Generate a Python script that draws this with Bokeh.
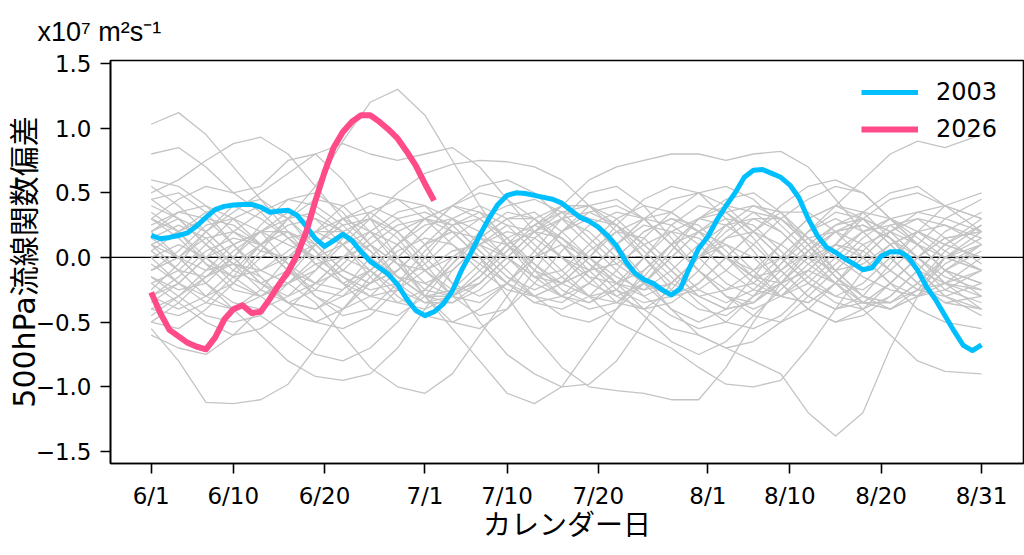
from bokeh.plotting import figure
from bokeh.models import Range1d, FixedTicker, Span
from bokeh.embed import file_html
from bokeh.resources import INLINE

# ---------------- data ----------------
x_tick_days = [0, 9, 19, 30, 39, 49, 61, 70, 80, 91]
x_tick_labels = ["6/1", "6/10", "6/20", "7/1", "7/10", "7/20", "8/1", "8/10", "8/20", "8/31"]
y_ticks = [-1.5, -1.0, -0.5, 0.0, 0.5, 1.0, 1.5]
y_tick_labels = ["\u22121.5", "\u22121.0", "\u22120.5", "0.0", "0.5", "1.0", "1.5"]
unit_text = "x10\u2077 m\u00b2s\u207b\u00b9"

days_2003 = list(range(92))
vals_2003 = [0.17, 0.145, 0.155, 0.17, 0.19, 0.245, 0.31, 0.37, 0.395, 0.405,
             0.41, 0.41, 0.39, 0.35, 0.36, 0.365, 0.325, 0.24, 0.145, 0.085,
             0.13, 0.18, 0.13, 0.045, -0.03, -0.08, -0.13, -0.21, -0.32, -0.41,
             -0.45, -0.42, -0.36, -0.26, -0.10, 0.03, 0.17, 0.30, 0.41, 0.48,
             0.50, 0.495, 0.48, 0.465, 0.45, 0.42, 0.365, 0.31, 0.28, 0.235,
             0.17, 0.09, -0.03, -0.12, -0.17, -0.20, -0.25, -0.29, -0.24, -0.08,
             0.07, 0.16, 0.29, 0.40, 0.50, 0.62, 0.675, 0.68, 0.65, 0.62,
             0.56, 0.46, 0.30, 0.17, 0.08, 0.04, -0.01, -0.05, -0.095, -0.08,
             0.01, 0.045, 0.045, 0.0, -0.10, -0.23, -0.33, -0.45, -0.57, -0.68,
             -0.72, -0.675]

days_2026 = list(range(32))
vals_2026 = [-0.27, -0.43, -0.56, -0.61, -0.66, -0.69, -0.71, -0.62, -0.48, -0.40,
             -0.37, -0.43, -0.42, -0.32, -0.21, -0.11, 0.02, 0.20, 0.44, 0.66,
             0.85, 0.97, 1.05, 1.10, 1.10, 1.05, 0.99, 0.92, 0.82, 0.71,
             0.57, 0.44]

grey_days = [0, 3, 6, 9, 12, 15, 18, 21, 24, 27, 30, 33, 36, 39, 42, 45,
             48, 51, 54, 57, 60, 63, 66, 69, 72, 75, 78, 81, 84, 87, 91]
grey_series = [
    [1.03, 1.12, 0.95, 0.7, 0.45, 0.2, -0.05, -0.2, -0.1, 0.1, 0.3, 0.4, 0.3, 0.1, -0.1, -0.2, -0.1, 0.1, 0.3, 0.35, 0.2, 0.0, -0.2, -0.3, -0.2, 0.0, 0.2, 0.3, 0.2, 0.05, -0.1],
    [0.8, 0.85, 0.7, 0.5, 0.55, 0.75, 0.8, 0.6, 0.3, 0.0, -0.3, -0.5, -0.55, -0.4, -0.1, 0.2, 0.4, 0.45, 0.3, 0.1, -0.1, -0.3, -0.4, -0.3, -0.1, 0.1, 0.35, 0.5, 0.55, 0.4, 0.2],
    [-0.3, -0.2, 0.0, 0.1, 0.2, 0.3, 0.55, 0.9, 1.2, 1.3, 1.1, 0.75, 0.4, 0.1, -0.15, -0.3, -0.35, -0.2, 0.0, 0.2, 0.3, 0.25, 0.1, -0.1, -0.3, -0.4, -0.35, -0.2, 0.0, 0.15, 0.2],
    [-0.55, -0.8, -1.12, -1.13, -1.1, -0.98, -0.7, -0.4, -0.15, 0.05, 0.15, 0.1, -0.05, -0.2, -0.3, -0.2, 0.0, 0.2, 0.3, 0.25, 0.1, -0.1, -0.25, -0.3, -0.15, 0.05, 0.2, 0.25, 0.1, -0.1, -0.2],
    [0.1, -0.1, -0.3, -0.4, -0.3, -0.2, -0.35, -0.6, -0.85, -1.0, -1.05, -0.9, -0.6, -0.3, 0.0, 0.2, 0.3, 0.25, 0.1, -0.1, -0.3, -0.4, -0.35, -0.2, 0.0, 0.2, 0.3, 0.2, 0.0, -0.2, -0.3],
    [0.2, 0.3, 0.2, 0.0, -0.2, -0.3, -0.2, 0.0, 0.1, -0.05, -0.3, -0.55, -0.8, -1.05, -1.13, -1.0, -0.7, -0.4, -0.1, 0.1, 0.2, 0.1, -0.1, -0.3, -0.35, -0.2, 0.0, 0.2, 0.35, 0.4, 0.3],
    [-0.2, -0.1, 0.1, 0.3, 0.4, 0.3, 0.1, -0.1, -0.2, -0.1, 0.1, 0.2, 0.0, -0.3, -0.6, -0.85, -1.0, -1.03, -1.05, -1.1, -1.1, -0.85, -0.5, -0.2, 0.0, 0.1, 0.05, -0.1, -0.25, -0.3, -0.2],
    [0.3, 0.2, 0.0, -0.2, -0.3, -0.2, 0.0, 0.2, 0.3, 0.2, 0.0, -0.2, -0.3, -0.2, 0.0, 0.1, 0.0, -0.2, -0.4, -0.55, -0.6, -0.7, -0.8, -0.9, -1.2, -1.38, -1.2, -0.7, -0.3, 0.0, 0.1],
    [-0.1, 0.0, 0.15, 0.2, 0.1, -0.1, -0.3, -0.4, -0.3, -0.1, 0.1, 0.2, 0.15, 0.0, -0.2, -0.3, -0.2, 0.0, 0.2, 0.3, 0.2, 0.0, -0.1, 0.0, 0.2, 0.4, 0.6, 0.8, 0.9, 0.85, 0.95],
    [-0.4, -0.3, -0.1, 0.1, 0.2, 0.1, 0.0, 0.1, 0.3, 0.5, 0.65, 0.72, 0.75, 0.74, 0.7, 0.6, 0.4, 0.2, 0.0, -0.2, -0.3, -0.25, -0.1, 0.1, 0.3, 0.4, 0.3, 0.1, -0.1, -0.2, -0.25],
    [0.0, -0.2, -0.35, -0.4, -0.25, 0.0, 0.2, 0.3, 0.2, 0.0, -0.2, -0.3, -0.2, 0.0, 0.2, 0.4, 0.6, 0.7, 0.75, 0.8, 0.8, 0.75, 0.8, 0.82, 0.7, 0.45, 0.2, 0.0, -0.2, -0.35, -0.4],
    [0.4, 0.3, 0.1, -0.1, -0.2, -0.1, 0.1, 0.3, 0.4, 0.3, 0.1, -0.2, -0.5, -0.75, -0.9, -1.0, -0.98, -0.8, -0.5, -0.2, 0.0, 0.1, 0.0, -0.2, -0.4, -0.5, -0.4, -0.2, 0.0, 0.15, 0.2],
    [0.5, 0.6, 0.75, 0.88, 0.93, 0.8, 0.55, 0.3, 0.1, -0.05, -0.1, 0.0, 0.15, 0.3, 0.35, 0.2, 0.0, -0.2, -0.3, -0.2, 0.0, 0.2, 0.35, 0.3, 0.1, -0.1, -0.3, -0.4, -0.3, -0.1, 0.05],
    [-0.3, -0.4, -0.3, -0.1, 0.1, 0.2, 0.1, -0.1, -0.2, -0.1, 0.1, 0.3, 0.4, 0.3, 0.1, -0.1, -0.3, -0.5, -0.6, -0.7, -0.85, -0.98, -1.0, -0.95, -0.7, -0.4, -0.1, 0.1, 0.2, 0.1, 0.0],
    [0.1, 0.2, 0.3, 0.25, 0.1, -0.1, -0.2, -0.1, 0.1, 0.25, 0.3, 0.2, 0.0, -0.2, -0.35, -0.3, -0.1, 0.1, 0.25, 0.2, 0.0, -0.2, -0.3, -0.2, -0.1, -0.2, -0.4, -0.6, -0.8, -0.88, -0.9],
    [-0.1, 0.0, 0.2, 0.35, 0.5, 0.65, 0.8, 0.88, 0.8, 0.75, 0.8, 0.85, 0.7, 0.45, 0.2, 0.0, -0.1, -0.05, 0.1, 0.2, 0.15, 0.0, -0.15, -0.2, -0.1, 0.1, 0.3, 0.45, 0.5, 0.4, 0.3],
    [0.2, 0.0, -0.2, -0.4, -0.6, -0.8, -0.92, -0.95, -0.9, -0.7, -0.4, -0.1, 0.1, 0.2, 0.15, 0.0, -0.15, -0.2, -0.1, 0.1, 0.3, 0.4, 0.35, 0.2, 0.0, -0.1, -0.05, 0.1, 0.2, 0.1, 0.0],
    [0.55, 0.4, 0.2, 0.0, -0.2, -0.35, -0.4, -0.3, -0.1, 0.1, 0.25, 0.3, 0.2, 0.0, -0.15, -0.2, -0.1, 0.1, 0.3, 0.45, 0.5, 0.4, 0.2, 0.0, -0.2, -0.35, -0.4, -0.3, -0.1, 0.1, 0.25],
    [-0.5, -0.55, -0.4, -0.2, 0.0, 0.15, 0.2, 0.1, -0.1, -0.3, -0.45, -0.5, -0.4, -0.2, 0.0, 0.2, 0.35, 0.4, 0.3, 0.1, -0.1, -0.3, -0.45, -0.5, -0.4, -0.2, 0.0, 0.2, 0.3, 0.25, 0.15],
    [0.3, 0.45, 0.55, 0.5, 0.35, 0.15, 0.0, -0.15, -0.25, -0.2, -0.05, 0.15, 0.3, 0.4, 0.45, 0.35, 0.15, -0.05, -0.2, -0.3, -0.25, -0.1, 0.1, 0.3, 0.45, 0.55, 0.5, 0.3, 0.1, -0.1, -0.2],
    [-0.2, -0.35, -0.5, -0.6, -0.55, -0.4, -0.2, 0.0, 0.2, 0.35, 0.4, 0.3, 0.1, -0.1, -0.3, -0.45, -0.5, -0.4, -0.2, 0.0, 0.2, 0.35, 0.4, 0.3, 0.15, 0.0, -0.15, -0.25, -0.3, -0.2, -0.1],
    [0.0, 0.1, 0.0, -0.15, -0.3, -0.45, -0.5, -0.4, -0.2, 0.0, 0.2, 0.4, 0.55, 0.6, 0.5, 0.3, 0.1, -0.1, -0.3, -0.45, -0.55, -0.5, -0.3, -0.1, 0.1, 0.25, 0.3, 0.2, 0.0, -0.2, -0.4],
    [0.15, 0.0, -0.2, -0.35, -0.4, -0.3, -0.1, 0.15, 0.35, 0.45, 0.4, 0.2, 0.0, -0.2, -0.35, -0.4, -0.3, -0.1, 0.15, 0.35, 0.5, 0.55, 0.45, 0.25, 0.05, -0.15, -0.3, -0.35, -0.25, -0.05, 0.1],
    [-0.35, -0.2, 0.0, 0.2, 0.35, 0.45, 0.4, 0.25, 0.05, -0.15, -0.3, -0.35, -0.25, -0.05, 0.15, 0.3, 0.35, 0.25, 0.05, -0.15, -0.35, -0.5, -0.55, -0.45, -0.25, -0.05, 0.15, 0.3, 0.35, 0.3, 0.2],
    [0.45, 0.3, 0.1, -0.05, -0.1, 0.0, 0.2, 0.4, 0.5, 0.45, 0.3, 0.1, -0.1, -0.25, -0.3, -0.2, 0.0, 0.25, 0.45, 0.55, 0.5, 0.3, 0.05, -0.2, -0.4, -0.5, -0.45, -0.3, -0.1, 0.1, 0.3],
    [-0.6, -0.7, -0.75, -0.6, -0.4, -0.2, -0.05, 0.0, -0.1, -0.25, -0.35, -0.3, -0.15, 0.05, 0.25, 0.35, 0.3, 0.1, -0.15, -0.4, -0.6, -0.7, -0.65, -0.5, -0.3, -0.1, 0.1, 0.2, 0.1, -0.1, -0.3],
    [0.25, 0.35, 0.4, 0.3, 0.1, -0.1, -0.25, -0.3, -0.2, 0.0, 0.2, 0.4, 0.5, 0.45, 0.3, 0.1, -0.1, -0.3, -0.4, -0.35, -0.2, 0.0, 0.2, 0.4, 0.55, 0.6, 0.5, 0.3, 0.1, 0.0, -0.1],
    [-0.15, -0.3, -0.45, -0.5, -0.45, -0.6, -0.75, -0.8, -0.7, -0.5, -0.25, 0.0, 0.15, 0.1, -0.05, -0.2, -0.3, -0.25, -0.45, -0.65, -0.75, -0.65, -0.45, -0.25, -0.05, 0.1, 0.0, -0.2, -0.4, -0.5, -0.55],
    [0.05, 0.2, 0.35, 0.4, 0.3, 0.15, -0.05, -0.2, -0.3, -0.25, -0.1, 0.05, 0.1, 0.0, -0.15, -0.1, 0.1, 0.3, 0.4, 0.35, 0.2, 0.0, -0.15, -0.1, 0.05, 0.2, 0.25, 0.15, -0.05, -0.25, -0.35],
    [-0.45, -0.3, -0.15, -0.05, -0.15, -0.35, -0.5, -0.55, -0.45, -0.25, 0.0, 0.25, 0.35, 0.25, 0.05, -0.15, -0.3, -0.35, -0.2, 0.0, 0.2, 0.3, 0.25, 0.05, -0.15, -0.3, -0.35, -0.2, 0.0, 0.2, 0.35],
    [0.35, 0.2, -0.05, -0.25, -0.3, -0.15, 0.1, 0.3, 0.35, 0.2, -0.05, -0.3, -0.45, -0.4, -0.2, 0.05, 0.25, 0.35, 0.3, 0.1, -0.1, -0.25, -0.2, 0.0, 0.2, 0.35, 0.3, 0.1, -0.1, -0.3, -0.4],
    [-0.25, -0.05, 0.2, 0.4, 0.45, 0.3, 0.05, -0.2, -0.4, -0.45, -0.3, -0.05, 0.2, 0.35, 0.3, 0.1, -0.15, -0.35, -0.4, -0.25, 0.0, 0.25, 0.4, 0.35, 0.15, -0.1, -0.3, -0.35, -0.2, 0.05, 0.25],
    [0.6, 0.55, 0.4, 0.2, 0.05, 0.0, 0.1, 0.25, 0.3, 0.15, -0.1, -0.3, -0.35, -0.2, 0.05, 0.3, 0.5, 0.55, 0.4, 0.15, -0.1, -0.3, -0.35, -0.2, 0.05, 0.25, 0.35, 0.3, 0.15, 0.0, -0.1],
    [-0.05, -0.2, -0.3, -0.2, 0.05, 0.3, 0.45, 0.4, 0.2, -0.05, -0.25, -0.3, -0.15, 0.1, 0.3, 0.4, 0.3, 0.05, -0.2, -0.4, -0.5, -0.4, -0.15, 0.1, 0.3, 0.4, 0.35, 0.15, -0.1, -0.3, -0.45],
    [0.2, 0.35, 0.3, 0.1, -0.15, -0.35, -0.4, -0.25, 0.0, 0.2, 0.3, 0.25, 0.05, -0.15, -0.25, -0.15, 0.05, 0.2, 0.15, -0.05, -0.25, -0.35, -0.25, -0.05, 0.15, 0.2, 0.1, -0.1, -0.25, -0.2, 0.0],
    [-0.4, -0.45, -0.35, -0.15, 0.1, 0.3, 0.35, 0.2, 0.0, -0.15, -0.2, -0.1, 0.1, 0.25, 0.2, 0.0, -0.2, -0.3, -0.2, 0.05, 0.3, 0.45, 0.5, 0.35, 0.1, -0.15, -0.35, -0.4, -0.3, -0.1, 0.1],
    [0.05, -0.1, -0.15, 0.0, 0.2, 0.35, 0.3, 0.1, -0.15, -0.35, -0.4, -0.3, -0.1, 0.1, 0.2, 0.15, 0.0, -0.15, -0.25, -0.2, 0.0, 0.15, 0.2, 0.1, -0.05, -0.2, -0.25, -0.1, 0.1, 0.3, 0.45],
    [0.3, 0.15, -0.05, -0.15, -0.1, 0.05, 0.2, 0.2, 0.05, -0.15, -0.3, -0.3, -0.15, 0.05, 0.25, 0.4, 0.4, 0.25, 0.0, -0.25, -0.4, -0.45, -0.3, -0.05, 0.2, 0.3, 0.2, 0.0, -0.2, -0.35, -0.3],
    [-0.1, 0.05, 0.25, 0.3, 0.2, -0.05, -0.3, -0.45, -0.4, -0.2, 0.05, 0.25, 0.3, 0.15, -0.05, -0.25, -0.35, -0.25, 0.0, 0.25, 0.4, 0.35, 0.15, -0.1, -0.3, -0.4, -0.3, -0.05, 0.2, 0.4, 0.5],
    [0.15, 0.25, 0.15, -0.05, -0.25, -0.35, -0.25, -0.05, 0.15, 0.3, 0.35, 0.25, 0.05, -0.15, -0.3, -0.35, -0.2, 0.0, 0.2, 0.3, 0.25, 0.05, -0.15, -0.3, -0.35, -0.2, 0.05, 0.25, 0.3, 0.15, -0.05],
    [-0.3, -0.15, 0.05, 0.15, 0.1, -0.05, -0.2, -0.25, -0.1, 0.1, 0.3, 0.4, 0.35, 0.15, -0.1, -0.3, -0.4, -0.35, -0.15, 0.1, 0.3, 0.35, 0.2, 0.0, -0.2, -0.3, -0.2, 0.0, 0.2, 0.25, 0.1],
    [0.45, 0.5, 0.35, 0.1, -0.1, -0.2, -0.1, 0.1, 0.2, 0.1, -0.1, -0.25, -0.2, 0.0, 0.2, 0.3, 0.2, 0.0, -0.2, -0.3, -0.2, 0.0, 0.2, 0.35, 0.35, 0.2, 0.0, -0.2, -0.3, -0.25, -0.1],
    [-0.15, -0.25, -0.2, 0.0, 0.25, 0.45, 0.5, 0.35, 0.1, -0.15, -0.3, -0.25, -0.05, 0.15, 0.25, 0.15, -0.05, -0.25, -0.35, -0.3, -0.1, 0.15, 0.3, 0.3, 0.1, -0.15, -0.35, -0.4, -0.25, 0.0, 0.2],
    [0.1, 0.0, -0.1, -0.05, 0.1, 0.25, 0.3, 0.2, 0.0, -0.2, -0.35, -0.35, -0.2, 0.0, 0.2, 0.35, 0.4, 0.3, 0.1, -0.1, -0.3, -0.4, -0.35, -0.15, 0.05, 0.2, 0.25, 0.15, 0.0, -0.15, -0.25],
    [-0.5, -0.35, -0.15, 0.05, 0.2, 0.2, 0.05, -0.15, -0.3, -0.35, -0.25, -0.05, 0.15, 0.3, 0.3, 0.15, -0.05, -0.2, -0.25, -0.1, 0.1, 0.25, 0.3, 0.2, 0.0, -0.2, -0.35, -0.35, -0.2, 0.0, 0.15],
]
mean_days = [0, 91]
mean_vals = [0.0, 0.0]

COLOR_2003 = "#00BFFF"
COLOR_2026 = "#FF4B8A"
GREY = "#C4C4C4"

# ---------------- figure ----------------
p = figure(width=1024, height=555, output_backend="svg", toolbar_location=None,
           x_range=Range1d(-4.46, 95.6), y_range=Range1d(-1.593, 1.523),
           min_border_left=110, min_border_right=1, min_border_top=60, min_border_bottom=92)
p.background_fill_color = "white"
p.border_fill_color = "white"
p.outline_line_color = "black"
p.outline_line_width = 1.6
p.xgrid.visible = False
p.ygrid.visible = False

p.title.text = unit_text
p.title.text_font = "Liberation Sans"
p.title.text_font_size = "27px"
p.title.text_font_style = "normal"
p.title.text_color = "black"
p.title.align = "left"
p.title.offset = -73
p.title.standoff = 27

zero = Span(location=0, dimension="width", line_color="black", line_width=1.3, level="underlay")
p.add_layout(zero)

p.line(mean_days, mean_vals, line_color="black", line_width=1.2, line_dash="6 2 1 2")

for s in grey_series:
    p.line(grey_days, s, line_color=GREY, line_width=1.3, line_join="round")

p.line(days_2003, vals_2003, line_color=COLOR_2003, line_width=5, line_join="round",
       legend_label="2003")
p.line(days_2026, vals_2026, line_color=COLOR_2026, line_width=6, line_join="round",
       legend_label="2026")

# axes
p.xaxis.ticker = FixedTicker(ticks=x_tick_days)
p.xaxis.major_label_overrides = {d: l for d, l in zip(x_tick_days, x_tick_labels)}
p.yaxis.ticker = FixedTicker(ticks=y_ticks)
p.yaxis.major_label_overrides = {v: l for v, l in zip(y_ticks, y_tick_labels)}

for ax in (p.xaxis[0], p.yaxis[0]):
    ax.axis_line_color = "black"
    ax.axis_line_width = 1.6
    ax.major_tick_line_color = "black"
    ax.major_tick_line_width = 1.6
    ax.major_tick_out = 10
    ax.major_tick_in = 0
    ax.minor_tick_line_color = None
    ax.major_label_text_font = "DejaVu Sans"
    ax.major_label_text_font_size = "23px"
    ax.major_label_text_color = "black"
    ax.axis_label_text_font_style = "normal"
    ax.axis_label_text_color = "black"

p.xaxis.major_label_standoff = 9
p.yaxis.major_label_standoff = 9
p.xaxis.axis_label = "カレンダー日"
p.xaxis.axis_label_text_font = "DejaVu Sans, Noto Sans CJK JP"
p.xaxis.axis_label_text_font_size = "28px"
p.xaxis.axis_label_standoff = -3
p.yaxis.axis_label = "500hPa流線関数偏差"
p.yaxis.axis_label_text_font = "DejaVu Sans, Noto Sans CJK JP"
p.yaxis.axis_label_text_font_size = "30px"
p.yaxis.axis_label_standoff = -9

# legend
lg = p.legend[0]
lg.location = "top_right"
lg.border_line_color = None
lg.background_fill_alpha = 0
lg.label_text_font = "DejaVu Sans"
lg.label_text_font_size = "24px"
lg.label_text_color = "black"
lg.glyph_width = 57
lg.glyph_height = 30
lg.label_height = 30
lg.label_width = 70
lg.label_standoff = 18
lg.spacing = 7
lg.padding = 5
lg.margin = 17

open("out.html", "w").write(file_html(p, INLINE))
